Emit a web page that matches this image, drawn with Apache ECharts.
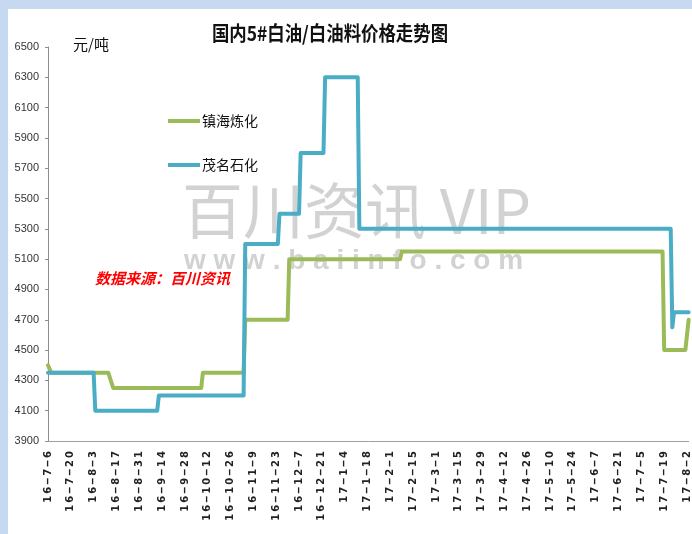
<!DOCTYPE html>
<html lang="zh">
<head>
<meta charset="UTF-8">
<title>国内5#白油/白油料价格走势图</title>
<style>
  html, body { margin: 0; padding: 0; background: #c6d9f1; }
  .panel { position: absolute; left: 8px; top: 9px; width: 684px; height: 525px; background: #fff; }
  .chart { position: absolute; left: 0; top: 0; width: 692px; height: 534px; }
</style>
</head>
<body>
<div class="panel"></div>
<div class="chart" id="chart"></div>
<script src="https://cdn.jsdelivr.net/npm/echarts@6/dist/echarts.min.js"></script>
<script>
  // 镇海炼化 turning points (date, 元/吨)
  const zhenhaiDates = ['2016-07-06', '2016-07-08', '2016-08-12', '2016-08-15', '2016-10-08', '2016-10-09',
    '2016-11-03', '2016-11-04', '2016-11-30', '2016-12-01', '2017-02-07', '2017-02-08',
    '2017-07-18', '2017-07-19', '2017-08-01', '2017-08-03'];
  const zhenhaiPrices = [4400, 4350, 4350, 4250, 4250, 4350,
    4350, 4700, 4700, 5100, 5100, 5150,
    5150, 4500, 4500, 4700];

  // 茂名石化
  const maomingDates = ['2016-07-06', '2016-08-03', '2016-08-04', '2016-09-11', '2016-09-12',
    '2016-11-03', '2016-11-04', '2016-11-24', '2016-11-25', '2016-12-07', '2016-12-08',
    '2016-12-22', '2016-12-23', '2017-01-12', '2017-01-13', '2017-07-23', '2017-07-24',
    '2017-07-25', '2017-08-03'];
  const maomingPrices = [4350, 4350, 4100, 4100, 4200,
    4200, 5200, 5200, 5400, 5400, 5800,
    5800, 6300, 6300, 5300, 5300, 4650,
    4750, 4750];

  const startDate = '2016-07-06';   // first tick label
  const lastDay = 393;              // axis end, days after startDate
  const tickDays = 14;              // one label every two weeks

  const t0 = Date.parse(startDate);
  const DAY = 86400000;
  const dayOf = s => (Date.parse(s) - t0) / DAY;
  const pairs = (ds, vs) => ds.map((d, i) => [dayOf(d), vs[i]]);

  function dateLabel(v) {
    const d = new Date(t0 + v * DAY);
    const s = String(d.getUTCFullYear()).slice(2) + '\u2012' + (d.getUTCMonth() + 1) + '\u2012' + d.getUTCDate();
    return s.split('').join('\u2009');
  }

  const chart = echarts.init(document.getElementById('chart'));

  chart.setOption({
    animation: false,
    backgroundColor: 'transparent',
    textStyle: { fontFamily: '"Noto Sans CJK SC", "Liberation Sans", sans-serif' },
    grid: { left: 48, top: 47, bottom: 93, right: 2 },
    legend: {
      orient: 'vertical',
      left: 168,
      top: 114,
      padding: 0,
      itemGap: 30,
      itemWidth: 32,
      itemHeight: 4,
      icon: 'rect',
      textStyle: { fontSize: 14, color: '#111', padding: [0, 0, 0, -3] },
      data: ['镇海炼化', '茂名石化']
    },
    xAxis: {
      type: 'value',
      min: 0,
      max: lastDay,
      interval: tickDays,
      axisLine: { onZero: false, lineStyle: { color: '#a0a0a0', width: 1 } },
      axisTick: { show: false },
      splitLine: { show: false },
      axisLabel: {
        rotate: 90,
        margin: 10,
        showMaxLabel: false,
        fontSize: 10,
        fontWeight: 'bold',
        color: '#222',
        fontFamily: 'DejaVu Sans',
        formatter: dateLabel
      }
    },
    yAxis: {
      type: 'value',
      min: 3900,
      max: 6500,
      interval: 200,
      axisLine: { show: true, lineStyle: { color: '#8c8c8c', width: 1 } },
      axisTick: { show: true, length: 3, lineStyle: { color: '#8c8c8c' } },
      splitLine: { show: false },
      axisLabel: {
        fontSize: 11, color: '#333', margin: 9,
        fontFamily: '"Liberation Sans Narrow", "Liberation Sans"',
        formatter: v => String(v)
      }
    },
    graphic: [
      {
        type: 'text', x: 330, y: 33, scaleX: 0.87, z: 5,
        style: {
          text: '国内5#白油/白油料价格走势图',
          fontSize: 20, fontWeight: 'bold', fill: '#111',
          fontFamily: '"Noto Sans CJK SC"',
          align: 'center', verticalAlign: 'middle'
        }
      },
      {
        type: 'text', x: 73, y: 44, z: 5,
        style: {
          text: '元/吨', fontSize: 15, fill: '#111',
          fontFamily: '"Noto Sans CJK SC"', verticalAlign: 'middle'
        }
      },
      {
        type: 'text', x: 182, y: 211, z: 0,
        style: {
          text: '百川资讯 VIP', fontSize: 61, fill: '#d2d2d2',
          fontFamily: '"Noto Sans CJK SC"', verticalAlign: 'middle'
        }
      },
      {
        type: 'text', x: 184, y: 261, z: 0,
        style: {
          text: 'w w w . b a i i n f o . c o m', fontSize: 28, fontWeight: 'bold', fill: '#d2d2d2',
          fontFamily: 'Liberation Sans', verticalAlign: 'middle'
        }
      },
      {
        type: 'text', x: 95, y: 278, z: 5,
        style: {
          text: '数据来源：百川资讯', fontSize: 15, fontWeight: 'bold', fontStyle: 'italic', fill: '#ff0000',
          fontFamily: '"Noto Sans CJK SC"', verticalAlign: 'middle'
        }
      }
    ],
    series: [
      {
        name: '镇海炼化',
        type: 'line',
        showSymbol: false,
        color: '#9bbb59',
        lineStyle: { width: 4, cap: 'round', join: 'round' },
        data: pairs(zhenhaiDates, zhenhaiPrices)
      },
      {
        name: '茂名石化',
        type: 'line',
        showSymbol: false,
        color: '#4bacc6',
        lineStyle: { width: 4, cap: 'round', join: 'round' },
        data: pairs(maomingDates, maomingPrices)
      }
    ]
  });
</script>
</body>
</html>
